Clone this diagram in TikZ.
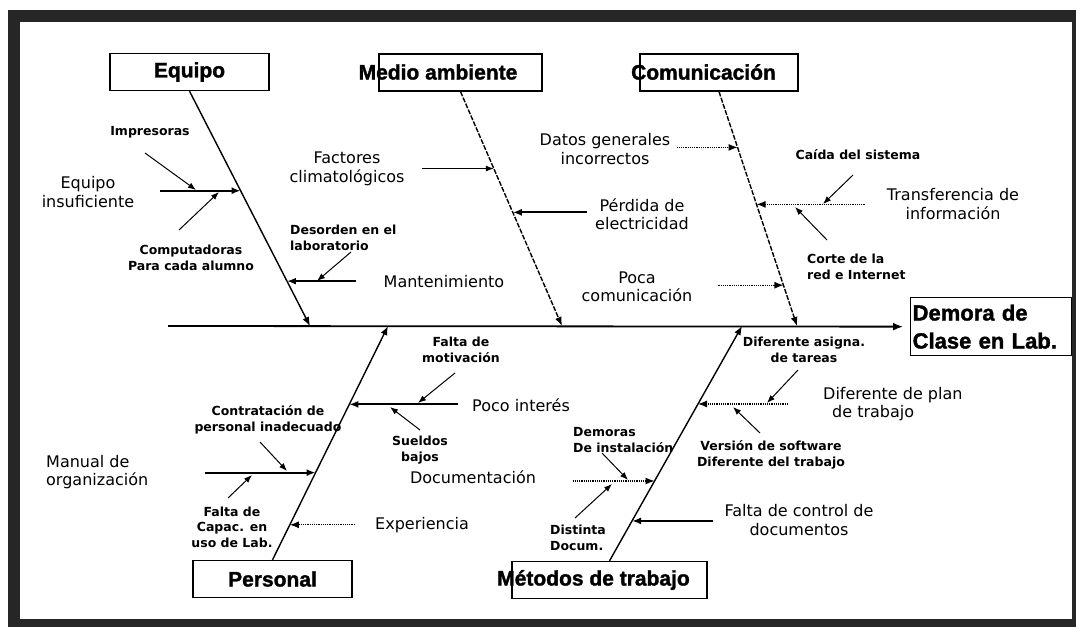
\documentclass[tikz,border=0pt]{standalone}
\usepackage{fontspec}
\setmainfont{DejaVu Sans}
\newfontfamily\titlefont{Liberation Sans}[BoldFeatures={FakeBold=1.5}]
\usetikzlibrary{arrows.meta,calc}

\begin{document}
\begin{tikzpicture}[x=1pt,y=-1pt,
  cattext/.style={inner sep=0pt,font=\titlefont\bfseries\fontsize{21}{24}\selectfont},
  catbox/.style={cattext,draw,line width=1.3pt,minimum height=37pt},
  cause/.style={inner sep=0pt,align=center,font=\fontsize{16}{18.5}\selectfont},
  subcause/.style={inner sep=0pt,align=center,font=\bfseries\fontsize{12.5}{15.5}\selectfont},
  bone/.style={line width=1.4pt,-{Latex[length=9pt,width=7pt]}},
  branch/.style={line width=2pt,-{Latex[length=9pt,width=7pt]}},
  twig/.style={line width=1pt,-{Latex[length=8pt,width=6pt]}},
  faint/.style={line width=1.2pt,densely dotted,-{Latex[length=9pt,width=7pt]}}]
\useasboundingbox (0,0) rectangle (1076,627);

% frame
\fill[black!85] (8,10) rectangle (1076,627);
\fill[white] (20,22) rectangle (1072,619);

% category boxes
\node[catbox,minimum width=159pt] (eq) at (189.5,72) {Equipo};
\node[catbox,minimum width=163pt] (ma) at (460.5,72.5) {};
\node[cattext] (matext) at (438,72) {Medio ambiente};
\node[catbox,minimum width=158pt] (co) at (719,72.5) {};
\node[cattext] (cotext) at (703.5,72) {Comunicación};
\node[catbox,minimum width=159pt] (pe) at (272.5,579) {Personal};
\node[catbox,minimum width=195pt] (mt) at (609.5,580) {};
\node[cattext] (mttext) at (593.5,580) {Métodos de trabajo};

% effect
\node[draw,line width=1.3pt,anchor=north west,align=left,text width=157pt,
  minimum height=58pt,inner xsep=2pt,inner ysep=0pt,
  font=\titlefont\bfseries\fontsize{22}{28}\selectfont] (dem) at (910,297) {Demora de\\Clase en Lab.};

% spine and bones
\coordinate (tail) at (168,326);
\draw[line width=1.8pt,-{Latex[length=10pt,width=8pt]}] (tail) -- ([xshift=-7pt]dem.west);
\coordinate (eqend) at (310,326);
\coordinate (maend) at (562,326);
\coordinate (coend) at (797,326);
\coordinate (peend) at (388,326);
\coordinate (mtend) at (742,326);
\draw[bone] (eq.south) -- (eqend);
\draw[bone,dash pattern=on 5pt off 1.5pt] (ma.south) -- (maend);
\draw[bone,dash pattern=on 5pt off 1.5pt] (co.south) -- (coend);
\draw[bone] (pe.north) -- (peend);
\draw[bone] (mt.north) -- (mtend);

% Equipo
\node[subcause] (impr) at (150,132) {Impresoras};
\node[cause] (eqins) at (88,192) {Equipo\\insuficiente};
\node[subcause] (comp) at (191,258) {Computadoras\\Para cada alumno};
\node[subcause,align=left,anchor=west] (desord) at (290,238) {Desorden en el\\laboratorio};
\node[cause] (mant) at (444,282) {Mantenimiento};
\coordinate (eq1) at ($(eq.south)!0.424!(eqend)$);
\coordinate (eq1s) at ($(eq1)+(-81,0)$);
\coordinate (eq2) at ($(eq.south)!0.809!(eqend)$);
\coordinate (eq2s) at ($(eq2)+(69,0)$);
\draw[branch] (eq1s) -- (eq1);
\draw[branch] (eq2s) -- (eq2);
\coordinate (impr1) at (145,153);
\coordinate (impr2) at (196,190);
\coordinate (comp1) at (179,230);
\coordinate (comp2) at (219,192);
\coordinate (des1) at (351,252);
\coordinate (des2) at (317,281);
\draw[twig] (impr1) -- (impr2);
\draw[twig] (comp1) -- (comp2);
\draw[twig] (des1) -- (des2);

% Medio ambiente
\node[cause] (fact) at (347,169) {Factores\\climatológicos};
\node[cause] (perd) at (642,214) {Pérdida de\\electricidad};
\coordinate (ma1) at ($(ma.south)!0.328!(maend)$);
\coordinate (ma1s) at ($(ma1)+(-72,0)$);
\coordinate (ma2) at ($(ma.south)!0.515!(maend)$);
\coordinate (ma2s) at ($(ma2)+(74,0)$);
\draw[twig] (ma1s) -- (ma1);
\draw[branch] (ma2s) -- (ma2);

% Comunicacion
\node[cause] (datos) at (605,149) {Datos generales\\incorrectos};
\node[subcause] (caida) at (858,155) {Caída del sistema};
\node[cause] (transf) at (953,204) {Transferencia de\\información};
\node[subcause,align=left,anchor=west] (corte) at (807,267) {Corte de la\\red e Internet};
\node[cause] (poca) at (637,287) {Poca\\comunicación};
\coordinate (co1) at ($(co.south)!0.238!(coend)$);
\coordinate (co1s) at ($(co1)+(-61,0)$);
\coordinate (co2) at ($(co.south)!0.481!(coend)$);
\coordinate (co2s) at ($(co2)+(108,0)$);
\coordinate (co3) at ($(co.south)!0.826!(coend)$);
\coordinate (co3s) at ($(co3)+(-65,0)$);
\draw[faint] (co1s) -- (co1);
\draw[faint] (co2s) -- (co2);
\draw[faint] (co3s) -- (co3);
\coordinate (caida1) at (853,175);
\coordinate (caida2) at (823,204);
\coordinate (corte1) at (827,240);
\coordinate (corte2) at (795,207);
\draw[twig] (caida1) -- (caida2);
\draw[twig] (corte1) -- (corte2);

% Personal
\node[subcause] (motiv) at (461,350) {Falta de\\motivación};
\node[cause,anchor=west] (inter) at (472,405) {Poco interés};
\node[subcause] (sueld) at (420,450) {Sueldos\\bajos};
\node[cause] (docu) at (473,477) {Documentación};
\node[subcause] (contr) at (268,420) {Contratación de\\personal inadecuado};
\node[cause,align=left,anchor=west] (manual) at (46,472) {Manual de\\organización};
\node[subcause] (capac) at (232,527) {Falta de\\Capac. en\\uso de Lab.};
\node[cause] (exper) at (422,525) {Experiencia};
\coordinate (pe1) at ($(pe.north)!0.665!(peend)$);
\coordinate (pe1s) at ($(pe1)+(109,0)$);
\coordinate (pe2) at ($(pe.north)!0.373!(peend)$);
\coordinate (pe2s) at ($(pe2)+(-111,0)$);
\coordinate (pe3) at ($(pe.north)!0.150!(peend)$);
\coordinate (pe3s) at ($(pe3)+(65,0)$);
\draw[branch] (pe1s) -- (pe1);
\draw[branch] (pe2s) -- (pe2);
\draw[faint] (pe3s) -- (pe3);
\coordinate (motiv1) at (455,373);
\coordinate (motiv2) at (418,403);
\coordinate (sueld1) at (420,430);
\coordinate (sueld2) at (390,407);
\coordinate (contr1) at (260,442);
\coordinate (contr2) at (287,471);
\coordinate (capac1) at (228,498);
\coordinate (capac2) at (252,475);
\draw[twig] (motiv1) -- (motiv2);
\draw[twig] (sueld1) -- (sueld2);
\draw[twig] (contr1) -- (contr2);
\draw[twig] (capac1) -- (capac2);

% Metodos de trabajo
\node[subcause] (asig) at (804,350) {Diferente asigna.\\de tareas};
\node[cause,align=left,anchor=west] (plan) at (823,404) {Diferente de plan\\\hspace{9pt}de trabajo};
\node[subcause] (vers) at (771,455) {Versión de software\\Diferente del trabajo};
\node[subcause,align=left,anchor=west] (demor) at (573,440) {Demoras\\De instalación};
\node[subcause,align=left,anchor=west] (dist) at (550,538) {Distinta\\Docum.};
\node[cause] (ctrl) at (799,520) {Falta de control de\\documentos};
\coordinate (mt1) at ($(mt.north)!0.668!(mtend)$);
\coordinate (mt1s) at ($(mt1)+(90,0)$);
\coordinate (mt2) at ($(mt.north)!0.340!(mtend)$);
\coordinate (mt2s) at ($(mt2)+(-82,0)$);
\coordinate (mt3) at ($(mt.north)!0.170!(mtend)$);
\coordinate (mt3s) at ($(mt3)+(81,0)$);
\draw[faint] (mt1s) -- (mt1);
\draw[faint] (mt2s) -- (mt2);
\draw[branch] (mt3s) -- (mt3);
\coordinate (asig1) at (798,370);
\coordinate (asig2) at (767,403);
\coordinate (vers1) at (760,433);
\coordinate (vers2) at (733,407);
\coordinate (demor1) at (602,453);
\coordinate (demor2) at (628,480);
\coordinate (dist1) at (575,518);
\coordinate (dist2) at (612,484);
\draw[twig] (asig1) -- (asig2);
\draw[twig] (vers1) -- (vers2);
\draw[twig] (demor1) -- (demor2);
\draw[twig] (dist1) -- (dist2);
\end{tikzpicture}
\end{document}
